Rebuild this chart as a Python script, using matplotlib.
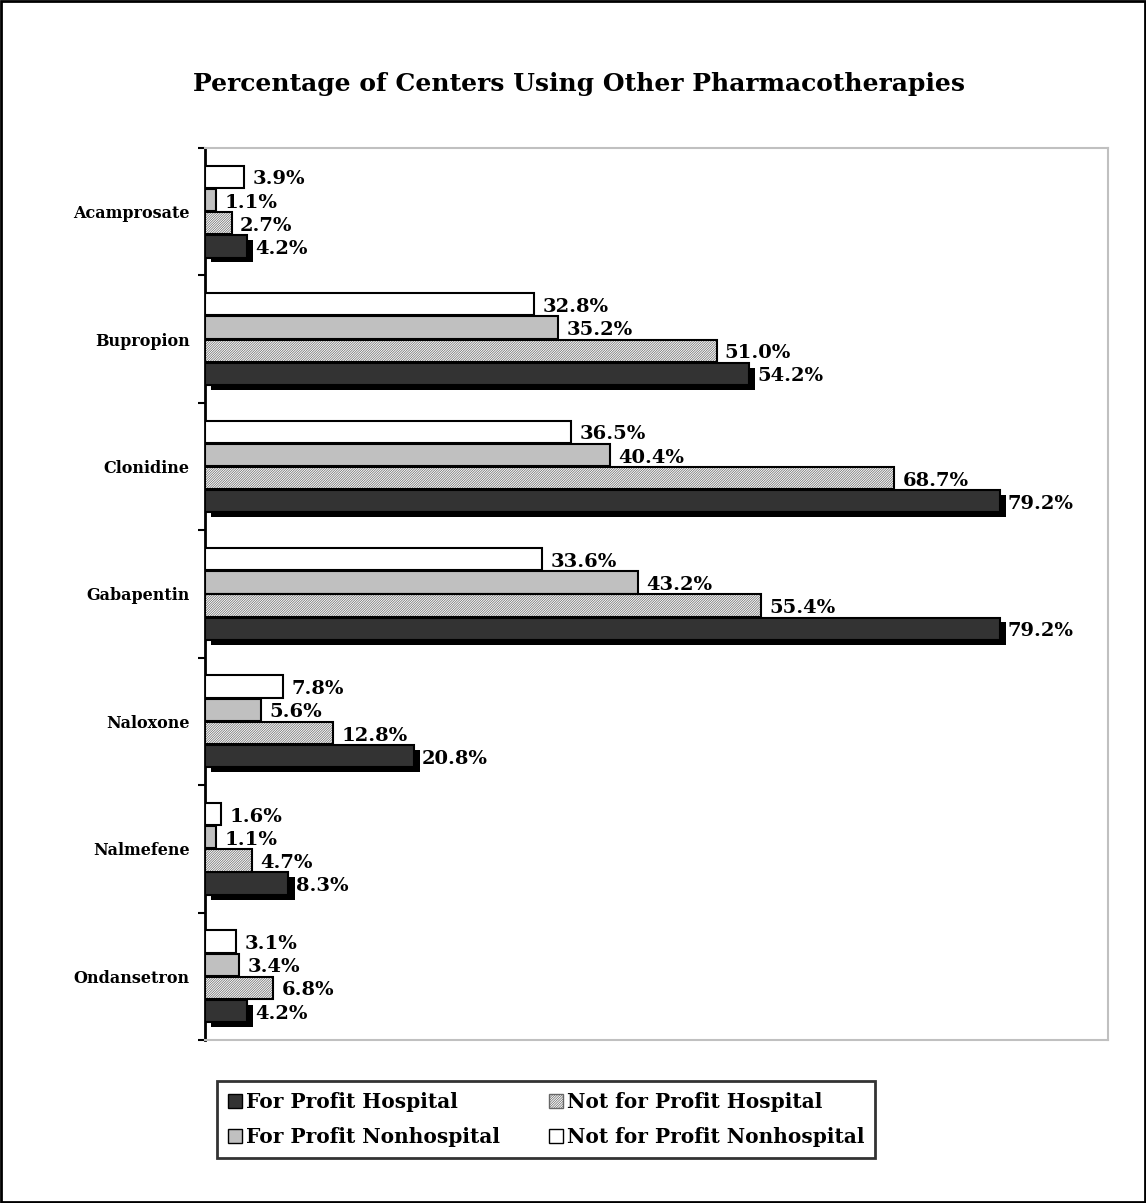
import matplotlib.pyplot as plt
import matplotlib.patheffects as pe
from matplotlib.patches import Patch
import numpy as np

categories = ["Acamprosate", "Bupropion", "Clonidine", "Gabapentin",
              "Naloxone", "Nalmefene", "Ondansetron"]
series = ["For Profit Hospital", "Not for Profit Hospital",
          "For Profit Nonhospital", "Not for Profit Nonhospital"]
fp_hosp = [4.2, 54.2, 79.2, 79.2, 20.8, 8.3, 4.2]
nfp_hosp = [2.7, 51.0, 68.7, 55.4, 12.8, 4.7, 6.8]
fp_nonhosp = [1.1, 35.2, 40.4, 43.2, 5.6, 1.1, 3.4]
nfp_nonhosp = [3.9, 32.8, 36.5, 33.6, 7.8, 1.6, 3.1]

plt.rcParams['font.family'] = ['DejaVu Serif']
plt.rcParams['font.weight'] = 'bold'
plt.rcParams['hatch.linewidth'] = 0.5

HATCH = "/" * 14

fig = plt.figure(figsize=(11.46, 12.03), dpi=100)
ax = fig.add_axes([0.1789, 0.1355, 0.7880, 0.7415])

y = np.arange(len(categories))
h = 0.175
step = 0.182
offs = [1.5 * step, 0.5 * step, -0.5 * step, -1.5 * step]

# dark bars with black drop shadow
ax.barh(y + offs[0], fp_hosp, height=h, color="#333333", edgecolor="black",
        linewidth=1.5, zorder=3,
        path_effects=[pe.SimplePatchShadow(offset=(4.5, -3.5), shadow_rgbFace="black", alpha=1),
                      pe.Normal()])
# hatched bars
ax.barh(y + offs[1], nfp_hosp, height=h, color="white", edgecolor="#666666",
        hatch=HATCH, linewidth=0, zorder=3)
ax.barh(y + offs[1], nfp_hosp, height=h, fill=False, edgecolor="black",
        linewidth=1.5, zorder=4)
ax.barh(y + offs[2], fp_nonhosp, height=h, color="#c0c0c0", edgecolor="black",
        linewidth=1.5, zorder=3)
ax.barh(y + offs[3], nfp_nonhosp, height=h, color="white", edgecolor="black",
        linewidth=1.5, zorder=3)

for vals, off in zip([fp_hosp, nfp_hosp, fp_nonhosp, nfp_nonhosp], offs):
    for i, v in enumerate(vals):
        ax.text(v + 0.8, y[i] + off + 0.02, f"{v:.1f}%", va="center", ha="left",
                fontsize=14, fontweight="bold")

ax.set_xlim(0, 90)
ax.set_ylim(len(categories) - 0.5, -0.5)
ax.set_xticks([])
ax.set_yticks(y)
ax.set_yticklabels(categories, fontsize=11.5, fontweight="bold")
ax.tick_params(axis="y", which="major", length=0, pad=11)
ax.set_yticks(np.arange(-0.5, len(categories)), minor=True)
ax.tick_params(axis="y", which="minor", length=5, width=1.5, direction="out")
ax.spines["left"].set_linewidth(2)
for s in ["top", "right", "bottom"]:
    ax.spines[s].set_color("#c0c0c0")
    ax.spines[s].set_linewidth(1.5)

fig.text(0.505, 0.930, "Percentage of Centers Using Other Pharmacotherapies",
         ha="center", va="center", fontsize=18, fontweight="bold")

# legend
handles = [
    Patch(facecolor="#333333", edgecolor="black", label=series[0]),
    Patch(facecolor="#c0c0c0", edgecolor="black", label=series[2]),
    Patch(facecolor="white", edgecolor="#666666", hatch=HATCH, label=series[1]),
    Patch(facecolor="white", edgecolor="black", label=series[3]),
]
leg = fig.legend(handles=handles, ncol=2, loc="upper left",
                 bbox_to_anchor=(0.1894, 0.1014), borderaxespad=0, fontsize=14.5,
                 frameon=True, fancybox=False, edgecolor="black",
                 handlelength=0.7, handleheight=0.7, handletextpad=0.2,
                 columnspacing=2.4, borderpad=0.55, labelspacing=0.75)
leg.get_frame().set_linewidth(2)
for t in leg.get_texts():
    t.set_fontweight("bold")

# outer frame
fig.patches.append(plt.Rectangle((0.001, 0.001), 0.998, 0.998, transform=fig.transFigure,
                                 fill=False, edgecolor="black", linewidth=2))

plt.savefig("out.png", dpi=100)
